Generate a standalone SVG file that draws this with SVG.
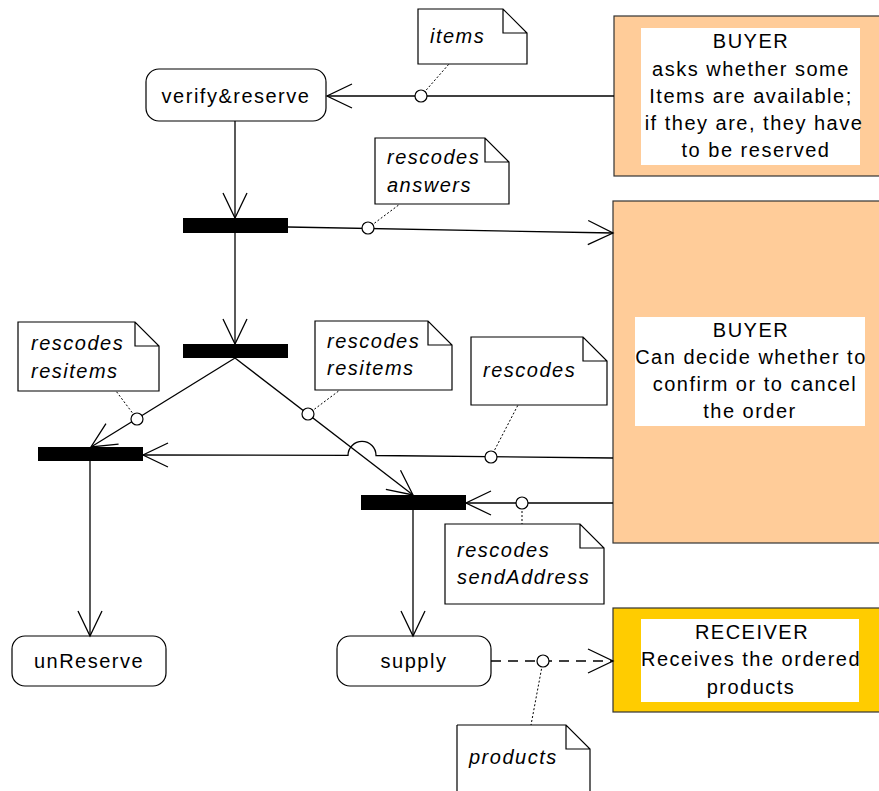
<svg xmlns="http://www.w3.org/2000/svg" width="879" height="791" viewBox="0 0 879 791">
<style>
.t{font-family:"Liberation Sans",Arial,sans-serif;font-size:20px;letter-spacing:1.5px;fill:#000}
.c{text-anchor:middle}
.i{font-style:italic}
.act{fill:#fff;stroke:#000;stroke-width:1.2}
.bar{fill:#000}
.note{fill:#fff;stroke:#000;stroke-width:1.2}
.ln{fill:none;stroke:#000;stroke-width:1.3}
.dash{stroke-dasharray:10 7}
.dot{fill:none;stroke:#000;stroke-width:1;stroke-dasharray:2 2}
.pin{fill:#fff;stroke:#000;stroke-width:1.2}
.buyer{fill:#FFCC99;stroke:#333;stroke-width:1.2}
.recv{fill:#FFCC00;stroke:#333;stroke-width:1.2}
.lbl{fill:#fff}
</style>
<defs>
<marker id="arr" markerWidth="30" markerHeight="30" refX="26" refY="13" orient="auto" markerUnits="userSpaceOnUse" overflow="visible">
<path d="M1 1 L26 13 L1 25" fill="none" stroke="#000" stroke-width="1.3"/>
</marker>
</defs>

<g id="buyer1">
<rect class="buyer" x="614" y="16" width="270" height="160"/>
<rect class="lbl" x="641" y="28" width="219" height="137"/>
<text class="t c" x="751" y="48">BUYER</text>
<text class="t c" x="751" y="76">asks whether some</text>
<text class="t c" x="751" y="103">Items are available;</text>
<text class="t c" x="754" y="130">if they are, they have</text>
<text class="t c" x="756" y="157">to be reserved</text>
</g>
<g id="buyer2">
<rect class="buyer" x="613" y="201" width="271" height="342"/>
<rect class="lbl" x="635" y="317" width="230" height="109"/>
<text class="t c" x="751" y="337">BUYER</text>
<text class="t c" x="751" y="364">Can decide whether to</text>
<text class="t c" x="755" y="391">confirm or to cancel</text>
<text class="t c" x="750" y="418">the order</text>
</g>
<g id="receiver">
<rect class="recv" x="613" y="608" width="271" height="104"/>
<rect class="lbl" x="641" y="619" width="218" height="83"/>
<text class="t c" x="752" y="639">RECEIVER</text>
<text class="t c" x="751" y="666">Receives the ordered</text>
<text class="t c" x="751" y="694">products</text>
</g>

<g id="verifyReserve">
<rect class="act" x="146" y="69" width="180" height="52" rx="13"/>
<text class="t c" x="236" y="103">verify&amp;reserve</text>
</g>
<g id="unReserve">
<rect class="act" x="12" y="636" width="154" height="50" rx="13"/>
<text class="t c" x="89" y="668">unReserve</text>
</g>
<g id="supply">
<rect class="act" x="337" y="636" width="154" height="50" rx="13"/>
<text class="t c" x="414" y="668">supply</text>
</g>

<g id="fork1"><rect class="bar" x="183" y="218" width="105" height="15"/></g>
<g id="fork2"><rect class="bar" x="183" y="344" width="105" height="14"/></g>
<g id="join1"><rect class="bar" x="38" y="447" width="105" height="14"/></g>
<g id="join2"><rect class="bar" x="361" y="495" width="105" height="15"/></g>

<g id="connectors">
<line class="ln" x1="614" y1="96" x2="327" y2="96" marker-end="url(#arr)"/>
<line class="ln" x1="235" y1="121" x2="235" y2="218" marker-end="url(#arr)"/>
<line class="ln" x1="288" y1="227" x2="613" y2="233" marker-end="url(#arr)"/>
<line class="ln" x1="235" y1="233" x2="235" y2="344" marker-end="url(#arr)"/>
<line class="ln" x1="235" y1="358" x2="91" y2="447" marker-end="url(#arr)"/>
<line class="ln" x1="235" y1="358" x2="413" y2="495" marker-end="url(#arr)"/>
<path class="ln" d="M613 458 L376 455.5 A14 14 0 0 0 348 455.3 L143 455" marker-end="url(#arr)"/>
<line class="ln" x1="613" y1="503" x2="466" y2="503" marker-end="url(#arr)"/>
<line class="ln" x1="90" y1="461" x2="90" y2="636" marker-end="url(#arr)"/>
<line class="ln" x1="413" y1="510" x2="413" y2="636" marker-end="url(#arr)"/>
<line class="ln dash" x1="491" y1="661" x2="613" y2="661" marker-end="url(#arr)"/>

<line class="dot" x1="421" y1="96" x2="449" y2="64"/>
<line class="dot" x1="368" y1="228" x2="400" y2="204"/>
<line class="dot" x1="137" y1="419" x2="116" y2="391"/>
<line class="dot" x1="308" y1="414" x2="340" y2="390"/>
<line class="dot" x1="491" y1="457" x2="518" y2="405"/>
<line class="dot" x1="522" y1="503" x2="522" y2="524"/>
<line class="dot" x1="543" y1="661" x2="531" y2="725"/>

<circle class="pin" cx="421" cy="96" r="6"/>
<circle class="pin" cx="368" cy="228" r="6"/>
<circle class="pin" cx="137" cy="419" r="6"/>
<circle class="pin" cx="308" cy="414" r="6"/>
<circle class="pin" cx="491" cy="457" r="6"/>
<circle class="pin" cx="522" cy="503" r="6"/>
<circle class="pin" cx="543" cy="661" r="6"/>
</g>

<g id="noteItems">
<path class="note" d="M418 9 H503 L527 33 V64 H418 Z M503 9 V33 H527"/>
<text class="t i" x="430" y="43">items</text>
</g>
<g id="noteAnswers">
<path class="note" d="M375 138 H485 L509 162 V204 H375 Z M485 138 V162 H509"/>
<text class="t i" x="387" y="164">rescodes</text>
<text class="t i" x="387" y="192">answers</text>
</g>
<g id="noteResitemsLeft">
<path class="note" d="M18 322 H135 L159 346 V391 H18 Z M135 322 V346 H159"/>
<text class="t i" x="31" y="350">rescodes</text>
<text class="t i" x="31" y="378">resitems</text>
</g>
<g id="noteResitemsMid">
<path class="note" d="M315 321 H428 L452 345 V390 H315 Z M428 321 V345 H452"/>
<text class="t i" x="327" y="348">rescodes</text>
<text class="t i" x="327" y="375">resitems</text>
</g>
<g id="noteRescodes">
<path class="note" d="M471 337 H583 L607 361 V405 H471 Z M583 337 V361 H607"/>
<text class="t i" x="483" y="377">rescodes</text>
</g>
<g id="noteSendAddress">
<path class="note" d="M445 524 H580 L604 548 V604 H445 Z M580 524 V548 H604"/>
<text class="t i" x="457" y="557">rescodes</text>
<text class="t i" x="457" y="584">sendAddress</text>
</g>
<g id="noteProducts">
<path class="note" d="M457 725 H566 L590 749 V800 M457 800 V725 M566 725 V749 H590"/>
<text class="t i" x="469" y="764">products</text>
</g>
</svg>
